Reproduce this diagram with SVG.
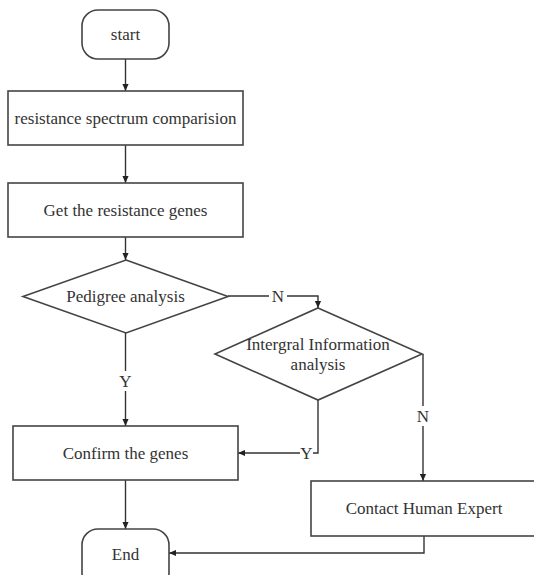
<svg xmlns="http://www.w3.org/2000/svg" width="534" height="575" viewBox="0 0 534 575">
<defs>
<marker id="ah" viewBox="0 0 8 8" refX="8" refY="4" markerWidth="7" markerHeight="7" markerUnits="userSpaceOnUse" orient="auto">
<path d="M0 0.5 L8 4 L0 7.5 Z" fill="#222"/>
</marker>
<style>
.shape{fill:#fff;stroke:#444;stroke-width:1.6}
.con{fill:none;stroke:#333;stroke-width:1.4}
text{font-family:"Liberation Serif","Times New Roman",serif;font-size:17px;fill:#333;text-anchor:middle;dominant-baseline:central}
</style>
</defs>
<rect width="534" height="575" fill="#fff"/>
<g id="connectors">
<path class="con" d="M125.5 59 V91" marker-end="url(#ah)"/>
<path class="con" d="M125.5 145 V183" marker-end="url(#ah)"/>
<path class="con" d="M125.5 237 V260" marker-end="url(#ah)"/>
<path class="con" d="M125.5 333 V371"/>
<path class="con" d="M125.5 391 V426" marker-end="url(#ah)"/>
<path class="con" d="M228 296 H269"/>
<path class="con" d="M287 296 H318 V308" marker-end="url(#ah)"/>
<path class="con" d="M318 400 V453 H313"/>
<path class="con" d="M300 453 H238" marker-end="url(#ah)"/>
<path class="con" d="M423 354 V406"/>
<path class="con" d="M423 426 V481" marker-end="url(#ah)"/>
<path class="con" d="M125.5 480 V529" marker-end="url(#ah)"/>
<path class="con" d="M424 536 V553 H169" marker-end="url(#ah)"/>
<text x="125.5" y="381">Y</text>
<text x="278" y="296">N</text>
<text x="306.5" y="453">Y</text>
<text x="423" y="416">N</text>
</g>
<g id="start">
<rect class="shape" x="82" y="10" width="87" height="49" rx="16"/>
<text x="125.5" y="34.5">start</text>
</g>
<g id="spectrum">
<rect class="shape" x="8" y="91" width="235" height="54"/>
<text x="125.5" y="118">resistance spectrum comparision</text>
</g>
<g id="getgenes">
<rect class="shape" x="8" y="183" width="235" height="54"/>
<text x="125.5" y="210">Get the resistance genes</text>
</g>
<g id="pedigree">
<polygon class="shape" points="126,260 228,296.5 126,333 23,296.5"/>
<text x="125.5" y="296.5">Pedigree analysis</text>
</g>
<g id="integral">
<polygon class="shape" points="318,308 422,354 318,400 215,354"/>
<text x="318" y="344">Intergral Information</text>
<text x="318" y="364">analysis</text>
</g>
<g id="confirm">
<rect class="shape" x="13" y="426" width="225" height="54"/>
<text x="125.5" y="453">Confirm the genes</text>
</g>
<g id="expert">
<rect class="shape" x="311" y="481" width="230" height="55"/>
<text x="424" y="508">Contact Human Expert</text>
</g>
<g id="end">
<rect class="shape" x="82" y="529" width="87" height="60" rx="16"/>
<text x="125.5" y="554">End</text>
</g>
</svg>
